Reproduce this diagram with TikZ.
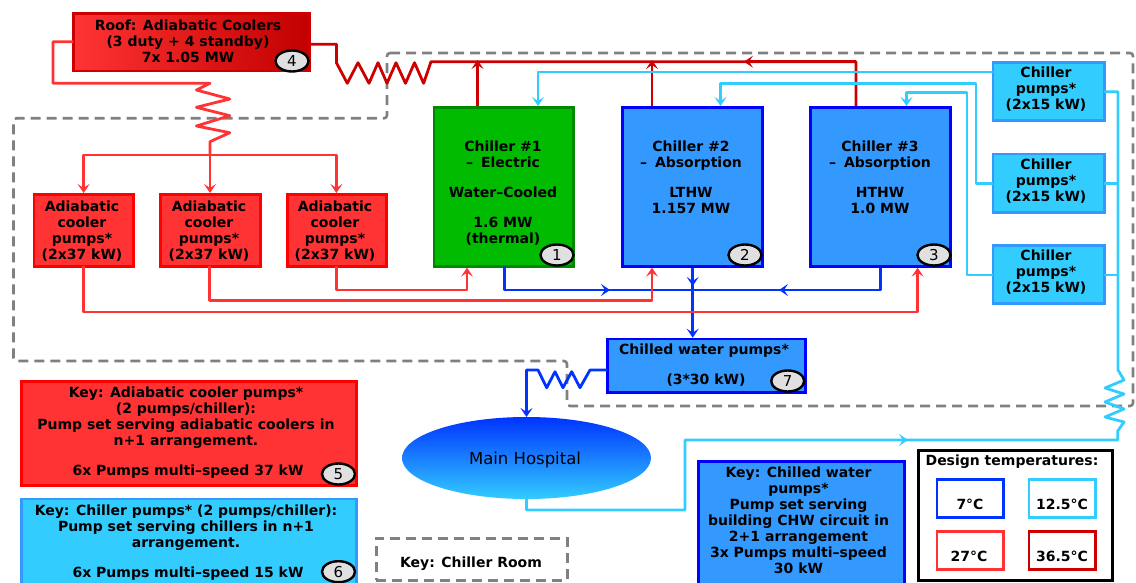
\documentclass[tikz,border=0pt]{standalone}
\usepackage{fontspec}
\setmainfont{DejaVu Sans}
\usetikzlibrary{arrows.meta,shapes.geometric}
\definecolor{cred}{HTML}{FF3333}
\definecolor{cdred}{HTML}{CC0000}
\definecolor{clb}{HTML}{33CCFF}
\definecolor{cblue}{HTML}{0033FF}
\definecolor{cmb}{HTML}{3399FF}
\definecolor{cgrn}{HTML}{00BB00}
\definecolor{cdgrn}{HTML}{008800}
\definecolor{cgrey}{HTML}{808080}
\tikzset{
 x=1pt,y=-1pt,
 txt/.style={font=\fontsize{14}{16}\selectfont\bfseries,align=center,inner sep=0pt,text=black},
 box/.style={rectangle,draw,line width=2.6pt,inner sep=0pt,outer sep=0pt},
 redbox/.style={box,draw=red,fill=cred},
 lbbox/.style={box,draw=cmb,fill=clb},
 mbbox/.style={box,draw=blue,fill=cmb},
 badge/.style={ellipse,draw=black,fill=black!12,line width=2.4pt,minimum width=33pt,minimum height=21pt,inner sep=0pt,font=\fontsize{15}{15}\selectfont},
 wire/.style={line width=2.8pt,line join=round},
 tip/.style={-{Stealth[length=9pt,width=12pt,inset=4pt]}},
 redw/.style={wire,draw=cred},
 dredw/.style={wire,draw=cdred},
 lbw/.style={wire,draw=clb},
 bluew/.style={wire,draw=cblue},
 room/.style={draw=cgrey,line width=2.6pt,dash pattern=on 10pt off 6pt},
 tempbox/.style={rectangle,draw,fill=white,line width=2.6pt,inner sep=0pt,outer sep=0pt},
}
\newcommand{\boxat}[6]{% name,style,x1,y1,x2,y2 (outer edges of the stroke)
 \node[#2,minimum width=#5pt-#3pt-2.6pt,minimum height=#6pt-#4pt-2.6pt,anchor=north west] (#1) at (#3+1.3,#4+1.3) {};}
\begin{document}
\begin{tikzpicture}
\useasboundingbox (0,0) rectangle (1136,583);
% chiller room outline
\draw[room,rounded corners=3pt] (387,53) -- (1133,53) -- (1133,406) -- (567,406) -- (567,361) -- (13.5,361) -- (13.5,118.3) -- (387,118.3) -- cycle;

% boxes
\boxat{roof}{box,draw=cdred,left color=cred,right color=cdred!95!black}{72}{12.5}{311}{72.5}
\boxat{ac1}{redbox}{32.7}{193}{135}{267.7}
\boxat{ac2}{redbox}{159}{193}{261.5}{267.7}
\boxat{ac3}{redbox}{286}{193}{387.6}{267.7}
\boxat{ch1}{box,draw=cdgrn,fill=cgrn}{432.7}{106}{575}{267.7}
\boxat{ch2}{mbbox}{621.3}{106}{763.9}{267.7}
\boxat{ch3}{mbbox}{809.3}{106}{952}{267.7}
\boxat{cp1}{lbbox}{991.7}{61}{1105.7}{122}
\boxat{cp2}{lbbox}{991.7}{152.7}{1105.7}{214}
\boxat{cp3}{lbbox}{991.7}{244}{1105.7}{305}
\boxat{chw}{mbbox}{606}{337.7}{806.5}{393.7}
\node[ellipse,minimum width=249pt,minimum height=82pt,inner sep=0pt,outer sep=0pt,top color=cblue,bottom color=clb] (hosp) at (526.5,458) {};
\boxat{keyred}{redbox}{20.4}{380.3}{358}{486.7}
\boxat{keylb}{lbbox}{20.4}{497.7}{358}{600}
\boxat{keymb}{mbbox}{697}{460}{906}{600}
\boxat{keyroom}{box,draw=cgrey,dash pattern=on 10pt off 6pt}{375}{537}{568.5}{581.7}
\boxat{design}{box,draw=black,line width=2.8pt}{917}{449}{1113.5}{581.7}
\boxat{t7}{tempbox,draw=cblue}{935.7}{478}{1005}{519}
\boxat{t12}{tempbox,draw=clb}{1027.8}{478}{1096.7}{519}
\boxat{t27}{tempbox,draw=cred}{935.7}{530}{1005}{571}
\boxat{t36}{tempbox,draw=cdred}{1027.8}{530}{1096.7}{571}

% adiabatic supply
\draw[redw] (roof.west|-0,41.7) -- (53,41.7) -- (53,83.3) -- (210,83.3) -- (196.4,90) -- (229.8,99) -- (196.4,107.3) -- (229.8,115.7) -- (196.4,126) -- (229.8,132.7) -- (210,141.7) -- (210,155);
\draw[redw,tip] (210,155) -- (210,193);
\draw[redw,tip] (210,155) -- (83.6,155) -- (83.6,193);
\draw[redw,tip] (210,155) -- (336.4,155) -- (336.4,193);

% dark red
\draw[dredw] (roof.east|-0,44.3) -- (336.4,44.3) -- (336.4,62.7) -- (347.3,83.3) -- (358,62.7) -- (369,83.3) -- (378,62.7) -- (387,83.3) -- (396,62.7) -- (405.5,83.3) -- (414.5,62.7) -- (423.6,83.3) -- (431,61.7) -- (856,61.7) -- (856,106);
\draw[dredw,tip] (856,61.7) -- (744,61.7);
\draw[dredw,tip] (477.5,106) -- (477.5,60);
\draw[dredw,tip] (652,106) -- (652,60);

% chiller pumps to chillers
\draw[lbw,tip] (cp1.west|-0,72) -- (538,72) -- (538,106);
\draw[lbw,tip] (cp2.west|-0,183.3) -- (976,183.3) -- (976,83.3) -- (720.5,83.3) -- (720.5,106);
\draw[lbw,tip] (cp3.west|-0,275) -- (967,275) -- (967,92.7) -- (906.5,92.7) -- (906.5,106);

% return light blue
\draw[lbw] (cp1.east|-0,91.7) -- (1118,91.7) -- (1118,370) -- (1124,380) -- (1105,388) -- (1124,394) -- (1105,402) -- (1124,409) -- (1105,417) -- (1124,422) -- (1117.7,431) -- (1117.7,440) -- (685,440) -- (685,510) -- (526.5,510) -- (hosp.south);
\draw[lbw] (cp2.east|-0,183.3) -- (1118,183.3);
\draw[lbw] (cp3.east|-0,275) -- (1118,275);
\draw[lbw,tip] (850,440) -- (908,440);

% chilled blue
\draw[bluew] (ch1.south-|504.7,0) -- (504.7,290) -- (880.5,290) -- (880.5,267.7);
\draw[bluew,tip] (560,290) -- (610,290);
\draw[bluew,tip] (830,290) -- (779,290);
\draw[bluew,tip] (692.7,267.7) -- (692.7,286);
\draw[bluew,tip] (692.7,267.7) -- (692.7,337.7);
\draw[bluew,tip] (chw.west|-0,370) -- (590,370) -- (580,387.7) -- (571.7,371.7) -- (563,387.7) -- (555,371.7) -- (546.7,387.7) -- (538,370) -- (526.5,370) -- (hosp.north);

% condenser red
\draw[redw,tip] (ac3.south-|336.4,0) -- (336.4,290) -- (467,290) -- (467,267.7);
\draw[redw,tip] (ac2.south-|209.5,0) -- (209.5,300.7) -- (652,300.7) -- (652,267.7);
\draw[redw,tip] (ac1.south-|83.6,0) -- (83.6,312) -- (917.6,312) -- (917.6,267.7);

% badges
\node[badge] (b1) at (557,255) {1};
\node[badge] (b2) at (745,255) {2};
\node[badge] (b3) at (934,255) {3};
\node[badge] (b4) at (292,61) {4};
\node[badge] (b5) at (338.5,474) {5};
\node[badge] (b6) at (338.5,571.7) {6};
\node[badge] (b7) at (787.7,381) {7};

% texts
\node[txt] (troof) at (188,41.5) {Roof: Adiabatic Coolers\\(3 duty + 4 standby)\\7x 1.05 MW};
\node[txt] (ta1) at (82,231) {Adiabatic\\cooler\\pumps*\\(2x37 kW)};
\node[txt] (ta2) at (209,231) {Adiabatic\\cooler\\pumps*\\(2x37 kW)};
\node[txt] (ta3) at (335,231) {Adiabatic\\cooler\\pumps*\\(2x37 kW)};
\node[txt] (tc1) at (503,193) {Chiller \#1\\–\hspace{3pt} Electric\\[14pt]Water–Cooled\\[14pt]1.6 MW\\(thermal)};
\node[txt] (tc2) at (691,177.5) {Chiller \#2\\–\hspace{3pt} Absorption\\[14pt]LTHW\\1.157 MW};
\node[txt] (tc3) at (880,177.5) {Chiller \#3\\–\hspace{3pt} Absorption\\[14pt]HTHW\\1.0 MW};
\node[txt] (tp1) at (1046,89) {Chiller\\pumps*\\(2x15 kW)};
\node[txt] (tp2) at (1046,181) {Chiller\\pumps*\\(2x15 kW)};
\node[txt] (tp3) at (1046,272) {Chiller\\pumps*\\(2x15 kW)};
\node[txt] (tchw1) at (704,351) {Chilled water pumps*};
\node[txt] (tchw2) at (706,380.5) {(3*30 kW)};
\node[inner sep=0pt,font=\fontsize{16.5}{18}\selectfont] (thosp) at (525,460) {Main Hospital};
\node[txt] (tk1) at (186,418) {Key: Adiabatic cooler pumps*\\(2 pumps/chiller):\\Pump set serving adiabatic coolers in\\n+1 arrangement.};
\node[txt] (tk1b) at (188,471.5) {6x Pumps multi–speed 37 kW};
\node[txt] (tk2) at (186,527.5) {Key: Chiller pumps* (2 pumps/chiller):\\Pump set serving chillers in n+1\\arrangement.};
\node[txt] (tk2b) at (188,573.5) {6x Pumps multi–speed 15 kW};
\node[txt] (tk3) at (471,563.5) {Key: Chiller Room};
\node[txt] (tk4) at (798.5,520.5) {Key: Chilled water\\pumps*\\Pump set serving\\building CHW circuit in\\2+1 arrangement\\3x Pumps multi–speed\\30 kW};
\node[txt] (td) at (1012,461.5) {Design temperatures:};
\node[txt] (t7t) at (970,504) {7°C};
\node[txt] (t12t) at (1062,504) {12.5°C};
\node[txt] (t27t) at (969,556) {27°C};
\node[txt] (t36t) at (1062,556) {36.5°C};
\end{tikzpicture}
\end{document}
